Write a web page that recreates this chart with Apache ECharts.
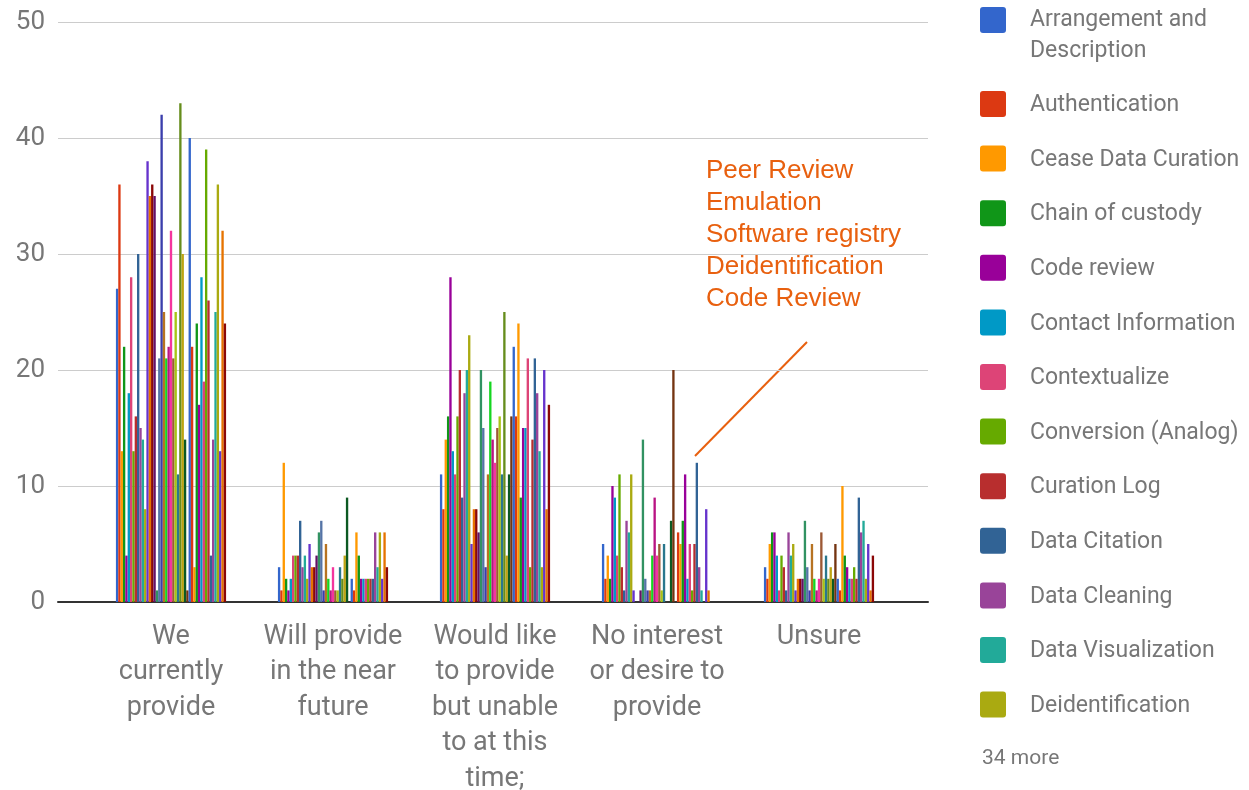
<!DOCTYPE html>
<html>
<head>
<meta charset="utf-8">
<script src="https://cdn.jsdelivr.net/npm/echarts@6/dist/echarts.min.js"></script>
<style>
  html, body { margin: 0; padding: 0; background: #ffffff; }
  #chart { width: 1249px; height: 790px; }
</style>
</head>
<body>
<div id="chart"></div>
<script>
// Response categories (x axis), wrapped the way they are displayed
const categories = [
  'We\ncurrently\nprovide',
  'Will provide\nin the near\nfuture',
  'Would like\nto provide\nbut unable\nto at this\ntime;',
  'No interest\nor desire to\nprovide',
  'Unsure'
];

// Y axis tick values
const yTicks = [0, 10, 20, 30, 40, 50];

// Services shown in the legend (the first 13 of 47)
const legendNames = [
  'Arrangement and\nDescription', 'Authentication', 'Cease Data Curation', 'Chain of custody',
  'Code review', 'Contact Information', 'Contextualize', 'Conversion (Analog)',
  'Curation Log', 'Data Citation', 'Data Cleaning', 'Data Visualization', 'Deidentification'
];
const hiddenCount = 34;

// Series colour cycle
const palette = [
  '#3366cc', '#dc3912', '#ff9900', '#109618', '#990099', '#0099c6', '#dd4477', '#66aa00',
  '#b82e2e', '#316395', '#994499', '#22aa99', '#aaaa11', '#6633cc', '#e67300', '#8b0707',
  '#651067', '#329262', '#5574a6', '#3b3eac', '#b77322', '#16d620', '#b91383', '#f4359e',
  '#9c5935', '#a9c413', '#2a778d', '#668d1c', '#bea413', '#0c5922', '#743411'
];

// Counts per service (47 services, in legend order) for each response
const currentlyProvide = [27, 36, 13, 22, 4, 18, 28, 13, 16, 30, 15, 14, 8, 38, 35, 36, 35, 1, 21, 42,
  25, 21, 22, 32, 21, 25, 11, 43, 30, 14, 1, 40, 22, 3, 24, 17, 28, 19, 39, 26,
  4, 14, 25, 36, 13, 32, 24];
const nearFuture = [3, 1, 12, 2, 1, 2, 4, 4, 4, 7, 3, 4, 2, 5, 3, 3, 4, 6, 7, 1,
  5, 2, 1, 3, 1, 1, 3, 2, 4, 9, 0, 2, 1, 6, 4, 2, 2, 2, 2, 2,
  2, 6, 3, 6, 2, 6, 3];
const wouldLike = [11, 8, 14, 16, 28, 13, 11, 16, 20, 9, 18, 20, 23, 5, 8, 8, 6, 20, 15, 3,
  11, 19, 14, 12, 15, 16, 11, 25, 4, 11, 16, 22, 16, 24, 9, 15, 15, 21, 3, 14,
  21, 18, 13, 3, 20, 8, 17];
const noInterest = [5, 2, 4, 2, 10, 9, 4, 11, 3, 1, 7, 6, 11, 1, 0, 0, 1, 14, 2, 1,
  1, 4, 9, 4, 5, 1, 5, 0, 0, 7, 20, 0, 6, 5, 7, 11, 2, 5, 1, 5,
  12, 3, 1, 0, 8, 1, 0];
const unsure = [3, 2, 5, 6, 6, 4, 1, 4, 3, 1, 6, 4, 5, 1, 2, 2, 2, 7, 3, 1,
  5, 2, 1, 2, 6, 2, 4, 2, 3, 2, 5, 2, 1, 10, 4, 3, 2, 2, 3, 2,
  9, 6, 7, 2, 5, 1, 4];

// Annotation listing services
const noteLines = ['Peer Review', 'Emulation', 'Software registry', 'Deidentification', 'Code Review'];

const responses = [currentlyProvide, nearFuture, wouldLike, noInterest, unsure];
const seriesCount = currentlyProvide.length;

const series = [];
for (let i = 0; i < seriesCount; i++) {
  series.push({
    type: 'bar',
    name: i < legendNames.length ? legendNames[i].replace('\n', ' ') : 'Service ' + (i + 1),
    xAxisIndex: 1,
    yAxisIndex: 1,
    barGap: '0%',
    barCategoryGap: '32%',
    itemStyle: { color: palette[i % palette.length] },
    emphasis: { disabled: true },
    data: responses.map(r => r[i])
  });
}

// Legend built as graphic items on the right side
const legendGraphics = [];
const legendX = 980, textX = 1030;
legendNames.forEach((name, i) => {
  const cy = i === 0 ? 20 : 104 + (i - 1) * 54.6;
  legendGraphics.push({
    type: 'rect',
    shape: { x: legendX, y: cy - 13, width: 26, height: 26, r: 3 },
    style: { fill: palette[i] }
  });
  if (i === 0) {
    legendGraphics.push({
      type: 'text',
      style: {
        x: textX, y: cy - 15.5, text: name, fill: '#777777',
        font: '23px Roboto', lineHeight: 31, verticalAlign: 'top'
      }
    });
  } else {
    legendGraphics.push({
      type: 'text',
      style: {
        x: textX, y: cy + 1.5, text: name, fill: '#777777',
        font: '23px Roboto', verticalAlign: 'middle'
      }
    });
  }
});
legendGraphics.push({
  type: 'text',
  style: {
    x: 982, y: 759, text: hiddenCount + ' more', fill: '#777777',
    font: '21px Roboto', verticalAlign: 'middle'
  }
});

const noteColor = '#e8600f';
const annotation = [
  {
    type: 'text',
    style: {
      x: 706, y: 155, text: noteLines.join('\n'), fill: noteColor,
      font: '26px "Liberation Sans", Arial, sans-serif', lineHeight: 32, verticalAlign: 'top'
    }
  },
  {
    type: 'line',
    shape: { x1: 807, y1: 342, x2: 695, y2: 456 },
    style: { stroke: noteColor, lineWidth: 2 }
  }
];

const chart = echarts.init(document.getElementById('chart'), null, { renderer: 'canvas' });
chart.setOption({
  animation: false,
  backgroundColor: '#ffffff',
  textStyle: { fontFamily: 'Roboto' },
  grid: [
    { left: 58, right: 321, top: 22, bottom: 188, outerBoundsMode: 'none', containLabel: false },
    { left: 90, right: 349, top: 22, bottom: 188, outerBoundsMode: 'none', containLabel: false }
  ],
  xAxis: [
    {
      gridIndex: 0, type: 'value', min: 0, max: 1,
      axisLine: { show: true, lineStyle: { color: '#333333', width: 2 } },
      axisTick: { show: false }, axisLabel: { show: false }, splitLine: { show: false }
    },
    {
      gridIndex: 1, type: 'category', data: categories,
      axisLine: { show: false }, axisTick: { show: false },
      axisLabel: {
        interval: 0, margin: 17, fontSize: 27, lineHeight: 35.5,
        color: '#777777', fontFamily: 'Roboto'
      }
    }
  ],
  yAxis: [
    {
      gridIndex: 0, type: 'value',
      min: yTicks[0], max: yTicks[yTicks.length - 1], interval: yTicks[1] - yTicks[0],
      axisLine: { show: false }, axisTick: { show: false },
      axisLabel: { margin: 13, fontSize: 26, color: '#777777', fontFamily: 'Roboto' },
      splitLine: { lineStyle: { color: '#cccccc', width: 1 } }
    },
    {
      gridIndex: 1, type: 'value',
      min: yTicks[0], max: yTicks[yTicks.length - 1], interval: yTicks[1] - yTicks[0],
      show: false
    }
  ],
  series: series,
  graphic: legendGraphics.concat(annotation)
});
</script>
</body>
</html>
